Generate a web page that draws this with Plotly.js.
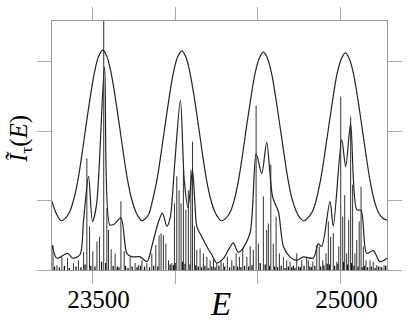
<!DOCTYPE html>
<html>
<head>
<meta charset="utf-8">
<script src="https://cdn.plot.ly/plotly-3.0.1.min.js"></script>
<style>
  html, body { margin: 0; padding: 0; background: #fff; }
  #chart { width: 409px; height: 322px; }
</style>
</head>
<body>
<div id="chart"></div>
<script>
// Upper envelope curve (smooth, periodic look)
const envE = [23255, 23280, 23311, 23337, 23362, 23387, 23412, 23437, 23462, 23487, 23512, 23537, 23562,
    23587, 23612, 23637, 23662, 23687, 23712, 23737, 23762, 23780, 23799,
    23820, 23840, 23865, 23890, 23915, 23940, 23965, 23990, 24015, 24040,
    24065, 24090, 24115, 24140, 24165, 24190, 24215, 24240, 24262, 24282,
    24305, 24334, 24359, 24384, 24409, 24434, 24459, 24484, 24509, 24534,
    24559, 24584, 24609, 24634, 24659, 24684, 24709, 24734, 24755, 24776,
    24798, 24830, 24855, 24880, 24905, 24930, 24955, 24980, 25005, 25030,
    25055, 25080, 25105, 25130, 25155, 25180, 25205, 25230, 25255, 25282];
const envI = [0.99, 0.82, 0.71, 0.75, 0.84, 1.02, 1.30, 1.68, 2.10, 2.50, 2.85, 3.08, 3.17,
    3.08, 2.85, 2.50, 2.10, 1.68, 1.30, 1.02, 0.84, 0.76, 0.71,
    0.74, 0.80, 1.02, 1.30, 1.68, 2.10, 2.50, 2.85, 3.07, 3.16,
    3.07, 2.84, 2.50, 2.10, 1.68, 1.30, 1.02, 0.84, 0.75, 0.71,
    0.74, 0.84, 1.02, 1.30, 1.68, 2.10, 2.49, 2.84, 3.05, 3.14,
    3.05, 2.83, 2.48, 2.08, 1.67, 1.29, 1.01, 0.84, 0.75, 0.71,
    0.74, 0.84, 1.02, 1.30, 1.67, 2.08, 2.48, 2.83, 3.04, 3.13,
    3.04, 2.82, 2.47, 2.07, 1.66, 1.28, 1.00, 0.83, 0.75, 0.72];

// Smoothed spectrum (middle curve)
const smE = [23255, 23285, 23349, 23380, 23424, 23446, 23476, 23500, 23525, 23573, 23605, 23630, 23672,
    23708, 23740, 23788, 23830, 23859, 23896, 23923, 23950, 23970, 23998, 24032, 24055, 24078,
    24105, 24120, 24131, 24161, 24192, 24222, 24252, 24290, 24325, 24352, 24380, 24400, 24453,
    24490, 24524, 24554, 24590, 24625, 24655, 24695, 24736, 24776, 24836, 24866, 24887, 24937,
    24957, 25008, 25032, 25062, 25099, 25125, 25159, 25199, 25239, 25282];
const smI = [0.36, 0.17, 0.24, 0.17, 0.22, 0.72, 1.35, 0.70, 0.95, 2.93, 0.65, 0.66, 0.75,
    0.24, 0.19, 0.19, 0.12, 0.34, 0.67, 0.82, 0.63, 0.75, 1.55, 2.45, 1.30, 0.90,
    1.44, 0.95, 0.63, 0.48, 0.34, 0.22, 0.10, 0.16, 0.30, 0.39, 0.26, 0.28, 0.53,
    1.68, 1.39, 1.84, 1.05, 0.84, 0.34, 0.19, 0.14, 0.19, 0.17, 0.38, 0.34, 0.99,
    0.63, 1.88, 1.49, 2.11, 0.87, 0.86, 0.24, 0.28, 0.12, 0.17];

// Stick spectrum (individual lines)
const stickE = [23261, 23285, 23315, 23349, 23385, 23415, 23446, 23466, 23482, 23502, 23527, 23542, 23568,
    23587, 23597, 23613, 23637, 23672, 23692, 23728, 23758, 23778, 23799, 23829, 23859, 23883,
    23903, 23915, 23929, 23944, 23960, 23980, 23996, 24010, 24024, 24036, 24050, 24065, 24080,
    24095, 24105, 24117, 24131, 24151, 24171, 24192, 24212, 24232, 24252, 24278, 24292, 24316,
    24343, 24369, 24389, 24409, 24434, 24454, 24473, 24490, 24504, 24534, 24554, 24564, 24579,
    24594, 24611, 24631, 24655, 24675, 24695, 24736, 24766, 24796, 24806, 24833, 24857, 24872,
    24893, 24913, 24927, 24941, 24957, 24978, 24990, 25002, 25014, 25026, 25038, 25050, 25062,
    25074, 25088, 25099, 25114, 25125, 25139, 25155, 25179, 25199, 25220, 25240, 25264];
const stickI = [0.36, 0.07, 0.19, 0.17, 0.10, 0.14, 0.26, 1.61, 0.63, 0.27, 0.41, 0.48, 5.0,
    0.89, 0.58, 0.30, 0.24, 0.99, 0.27, 0.19, 0.10, 0.07, 0.14, 0.10, 0.24, 0.36,
    0.50, 0.53, 0.50, 0.38, 0.14, 0.10, 0.96, 1.35, 1.15, 0.96, 1.42, 0.87, 1.15,
    1.44, 1.85, 0.63, 0.29, 0.31, 0.24, 0.19, 0.14, 0.17, 0.10, 0.12, 0.10, 0.19,
    0.14, 0.24, 0.19, 0.31, 0.19, 0.34, 0.29, 2.37, 0.38, 1.06, 0.58, 0.67, 1.52,
    0.38, 0.77, 0.24, 0.19, 0.14, 0.12, 0.24, 0.14, 0.19, 0.14, 0.12, 0.36, 0.34,
    0.14, 0.24, 0.70, 0.48, 0.53, 0.12, 0.34, 2.50, 0.77, 1.08, 0.24, 0.72, 2.21,
    1.23, 0.24, 0.43, 0.70, 1.20, 0.34, 0.14, 0.14, 0.12, 0.07, 0.05, 0.07];

// Tiny lines along the base
const tinyE = [23270, 23300, 23330, 23360, 23400, 23430, 23455, 23490, 23515, 23555, 23580, 23625, 23650,
    23660, 23700, 23715, 23740, 23770, 23790, 23815, 23845, 23870, 23895, 23970, 23990, 24000,
    24045, 24060, 24090, 24125, 24140, 24160, 24180, 24200, 24222, 24242, 24265, 24300, 24330,
    24355, 24378, 24398, 24420, 24445, 24465, 24515, 24545, 24572, 24602, 24620, 24642, 24665,
    24685, 24705, 24715, 24725, 24748, 24758, 24780, 24815, 24825, 24845, 24880, 24900, 24920,
    24935, 24965, 24985, 25020, 25044, 25068, 25082, 25107, 25132, 25147, 25165, 25188, 25210,
    25230, 25250, 25274];
const tinyI = [0.05, 0.04, 0.06, 0.03, 0.05, 0.04, 0.08, 0.06, 0.05, 0.12, 0.10, 0.06, 0.05,
    0.04, 0.06, 0.03, 0.05, 0.04, 0.06, 0.05, 0.04, 0.06, 0.05, 0.08, 0.07, 0.10,
    0.12, 0.09, 0.08, 0.07, 0.05, 0.04, 0.06, 0.03, 0.05, 0.04, 0.06, 0.05, 0.04,
    0.06, 0.05, 0.04, 0.06, 0.05, 0.07, 0.10, 0.08, 0.06, 0.05, 0.04, 0.06, 0.03,
    0.05, 0.04, 0.06, 0.03, 0.05, 0.04, 0.06, 0.05, 0.04, 0.06, 0.05, 0.07, 0.09,
    0.08, 0.06, 0.09, 0.12, 0.08, 0.10, 0.06, 0.05, 0.04, 0.06, 0.04, 0.05, 0.03,
    0.05, 0.04, 0.06];

const xTicks = [23500, 24000, 24500, 25000];
const xTickText = ['23500', '', '', '25000'];
const yTicks = [0, 1, 2, 3];

// build stick segments: (E,0)-(E,h) separated by nulls
function sticks(es, hs) {
    const x = [], y = [];
    for (let i = 0; i < es.length; i++) {
        x.push(es[i], es[i], null);
        y.push(0, hs[i], null);
    }
    return { x, y };
}

const big = sticks(stickE, stickI);
const small = sticks(tinyE, tinyI);

const data = [
    { x: small.x, y: small.y, type: 'scatter', mode: 'lines', line: { color: '#111', width: 1.3 }, hoverinfo: 'skip' },
    { x: big.x, y: big.y, type: 'scatter', mode: 'lines', line: { color: '#333', width: 1 }, hoverinfo: 'skip' },
    { x: smE, y: smI, type: 'scatter', mode: 'lines', line: { color: '#222', width: 1.2, shape: 'spline', smoothing: 0.8 } },
    { x: envE, y: envI, type: 'scatter', mode: 'lines', line: { color: '#222', width: 1.2, shape: 'spline', smoothing: 1 } }
];

const layout = {
    width: 409,
    height: 322,
    margin: { l: 52, r: 22, t: 21, b: 52 },
    showlegend: false,
    paper_bgcolor: '#ffffff',
    plot_bgcolor: '#ffffff',
    font: { family: 'Liberation Serif', color: '#000' },
    xaxis: {
        range: [23255, 25282],
        tickvals: xTicks,
        ticktext: xTickText,
        ticks: 'outside',
        ticklen: 13,
        tickcolor: '#aaa',
        tickwidth: 1,
        showgrid: false,
        zeroline: false,
        showline: true,
        linecolor: '#999',
        linewidth: 1,
        mirror: 'ticks',
        tickfont: { size: 25, family: 'Liberation Serif', color: '#000' },
        ticklabelshift: 6,
        ticklabelstandoff: -6
    },
    yaxis: {
        range: [0, 3.59],
        tickvals: yTicks,
        showticklabels: false,
        ticks: 'outside',
        ticklen: 14,
        tickcolor: '#aaa',
        tickwidth: 1,
        showgrid: false,
        zeroline: false,
        showline: true,
        linecolor: '#999',
        linewidth: 1,
        mirror: 'ticks'
    },
    annotations: [
        {
            text: '<i>E</i>', xref: 'paper', yref: 'paper', x: 0.503, y: -0.137,
            xanchor: 'center', yanchor: 'middle', showarrow: false,
            font: { size: 33, family: 'Liberation Serif' }
        },
        {
            text: '<i>Ĩ</i><sub>τ</sub>(<i>E</i>)', xref: 'paper', yref: 'paper', x: -0.096, y: 0.525,
            xanchor: 'center', yanchor: 'middle', textangle: -90, showarrow: false,
            font: { size: 25, family: 'Liberation Serif' }
        }
    ]
};

Plotly.newPlot('chart', data, layout, { displayModeBar: false, staticPlot: true });
</script>
</body>
</html>
